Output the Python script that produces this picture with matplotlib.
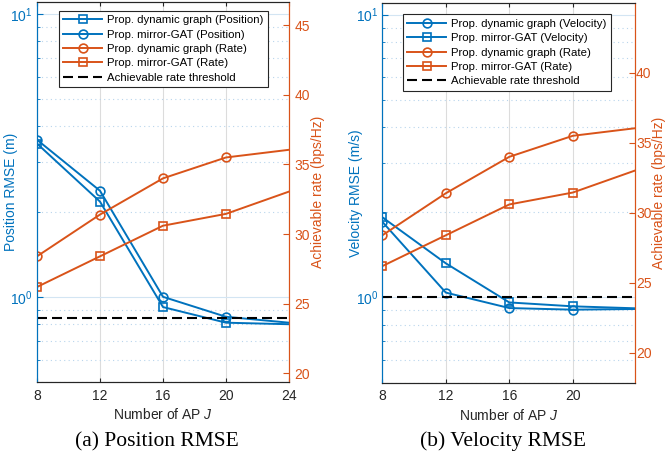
import matplotlib
matplotlib.use("Agg")
import matplotlib.pyplot as plt
from matplotlib.ticker import LogLocator, NullFormatter, FixedLocator

# ---- data ----
J = [8, 12, 16, 20, 24]
x_ticks = [8, 12, 16, 20, 24]

pos_dyn = [3.48, 2.17, 0.92, 0.81, 0.80]     # Prop. dynamic graph (Position)
pos_gat = [3.59, 2.37, 1.00, 0.85, 0.81]     # Prop. mirror-GAT (Position)
vel_dyn = [1.85, 1.04, 0.917, 0.905, 0.91]   # Prop. dynamic graph (Velocity)
vel_gat = [1.92, 1.32, 0.96, 0.93, 0.915]    # Prop. mirror-GAT (Velocity)
rate_dyn = [28.4, 31.4, 34.0, 35.5, 36.05]   # Prop. dynamic graph (Rate)
rate_gat = [26.2, 28.4, 30.6, 31.45, 33.05]  # Prop. mirror-GAT (Rate)
rate_threshold = 24

BLUE = "#0072BD"
ORANGE = "#D95319"
DARK = "#262626"

plt.rcParams["font.family"] = ["Liberation Sans", "DejaVu Sans"]
plt.rcParams["mathtext.fontset"] = "custom"
plt.rcParams["mathtext.rm"] = "Liberation Sans"
plt.rcParams["mathtext.it"] = "Liberation Sans:italic"

fig = plt.figure(figsize=(6.65, 4.59), dpi=100)

FS = 10
LW = 1.4
MARKER_SIZE = {"o": 6.3, "s": 5.6}


def make_panel(rect, rmse_dyn, rmse_gat, rmse_label, qty, dyn_marker, gat_marker,
               xlim, xtick_vals, rate_lim, rate_ticks, caption, caption_x,
               leg_anchor, rate_label_x, rate_pad):
    ax = fig.add_axes(rect)
    ax2 = ax.twinx()

    ax.set_yscale("log")
    ax.set_ylim(0.5, 11)
    ax.set_xlim(*xlim)
    ax.set_xticks(xtick_vals)
    ax.yaxis.set_major_locator(FixedLocator([1, 10]))
    ax.yaxis.set_minor_locator(LogLocator(base=10, subs=range(2, 10)))
    ax.yaxis.set_minor_formatter(NullFormatter())

    # grid
    ax.grid(True, axis="x", color="#dcdcdc", lw=0.8)
    ax.grid(True, axis="y", which="major", color="#d3e5f3", lw=0.8)
    ax.grid(True, axis="y", which="minor", color="#b9d5ec", lw=0.8,
            linestyle=(0, (1, 3)))
    ax.set_axisbelow(True)

    def mk(m):
        return dict(marker=m, markevery=slice(0, 4), markerfacecolor="none",
                    markersize=MARKER_SIZE[m], markeredgewidth=1.2, lw=LW)

    h1, = ax.plot(J, rmse_dyn, color=BLUE,
                  label=f"Prop. dynamic graph ({qty})", **mk(dyn_marker))
    h2, = ax.plot(J, rmse_gat, color=BLUE,
                  label=f"Prop. mirror-GAT ({qty})", **mk(gat_marker))

    h3, = ax2.plot(J, rate_dyn, color=ORANGE,
                   label="Prop. dynamic graph (Rate)", **mk("o"))
    h4, = ax2.plot(J, rate_gat, color=ORANGE,
                   label="Prop. mirror-GAT (Rate)", **mk("s"))
    h5 = ax2.axhline(rate_threshold, color="black", lw=1.5,
                     linestyle=(0, (4.8, 2.4)), label="Achievable rate threshold")
    ax2.set_ylim(*rate_lim)
    ax2.set_yticks(rate_ticks)

    # spines / ticks
    for a in (ax, ax2):
        a.spines["top"].set_color(DARK)
        a.spines["bottom"].set_color(DARK)
        a.spines["left"].set_color(BLUE)
        a.spines["right"].set_color(ORANGE)
        for s in a.spines.values():
            s.set_linewidth(0.8)
    ax.tick_params(axis="x", direction="in", colors=DARK, labelsize=FS,
                   length=3, top=True, pad=5)
    ax.tick_params(axis="y", which="both", direction="in", colors=BLUE,
                   labelsize=FS, pad=3)
    ax.tick_params(axis="y", which="major", length=4)
    ax.tick_params(axis="y", which="minor", length=2)
    ax2.tick_params(axis="y", direction="in", colors=ORANGE, labelsize=FS,
                    length=4, pad=rate_pad)

    ax.set_xlabel("Number of AP $J$", fontsize=FS, color=DARK, labelpad=3)
    ax.set_ylabel(rmse_label, fontsize=FS, color=BLUE)
    ax.yaxis.set_label_coords(-0.076, 0.5)
    ax2.set_ylabel("Achievable rate (bps/Hz)", fontsize=FS, color=ORANGE)
    ax2.yaxis.set_label_coords(rate_label_x, 0.5)

    leg = ax2.legend(handles=[h1, h2, h3, h4, h5], loc="upper left",
                     bbox_to_anchor=leg_anchor, borderaxespad=0,
                     fontsize=8.2, handlelength=3.4, handletextpad=0.4,
                     labelspacing=0.38, borderpad=0.4, frameon=True,
                     fancybox=False, edgecolor=DARK, framealpha=1)
    leg.get_frame().set_linewidth(0.8)

    fig.text(caption_x, 0.038, caption, ha="center", va="center",
             fontsize=15.5, family="Liberation Serif")
    return ax, ax2


make_panel([0.0556, 0.1678, 0.379, 0.8275], pos_dyn, pos_gat,
           "Position RMSE (m)", "Position", "s", "o",
           (8, 24), x_ticks, (19.38, 46.65), [20, 25, 30, 35, 40, 45],
           "(a) Position RMSE", 0.236, (0.087, 0.977), 1.087, 4)

make_panel([0.575, 0.1666, 0.3805, 0.8269], vel_dyn, vel_gat,
           "Velocity RMSE (m/s)", "Velocity", "o", "s",
           (8, 23.95), x_ticks[:4], (17.89, 44.98), [20, 25, 30, 35, 40],
           "(b) Velocity RMSE", 0.756, (0.081, 0.970), 1.067, 0.5)

fig.savefig("out.png", dpi=100)
